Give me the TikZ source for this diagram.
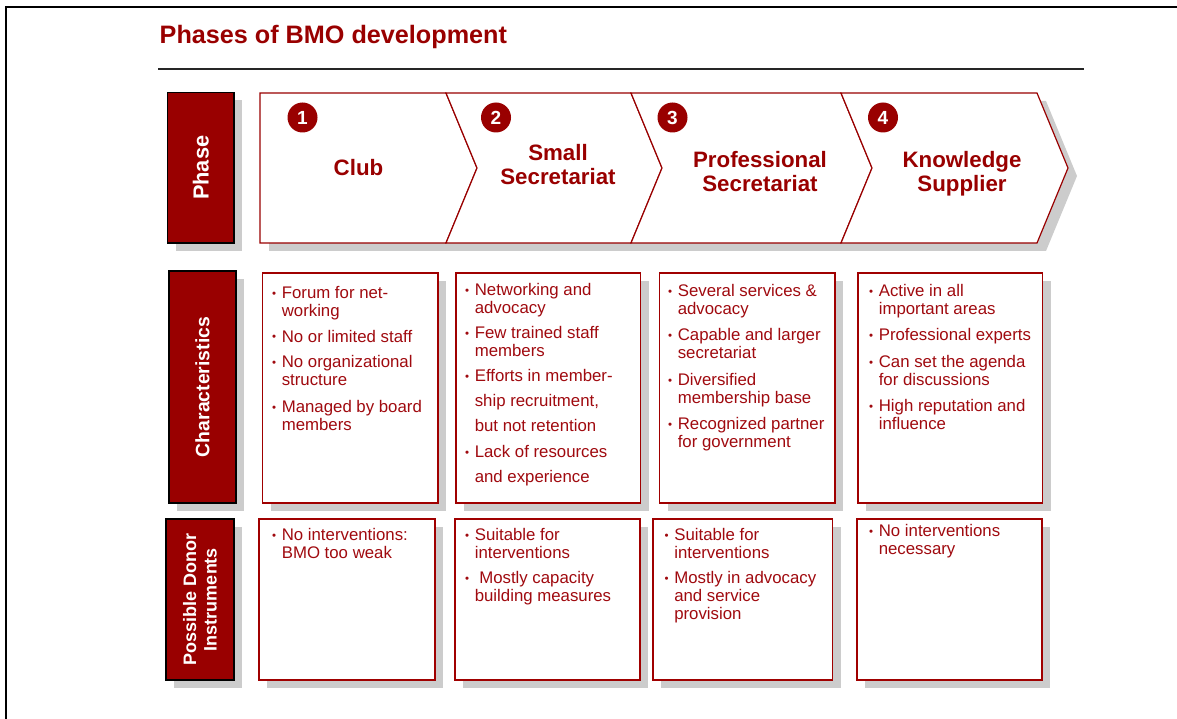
\documentclass[tikz,border=0pt]{standalone}
\usepackage{fontspec}
\setmainfont{Liberation Sans}
\usetikzlibrary{shadows}
\definecolor{bmored}{HTML}{990000}
\definecolor{txtred}{HTML}{A00A0F}
\definecolor{boxred}{HTML}{A00000}
\definecolor{shadowgray}{HTML}{CCCCCC}
\newcommand\bul{\raisebox{1.0pt}{\fontsize{11.5}{10}\selectfont •}}
\newcommand\bi{\makebox[9.6pt][l]{\bul}}
\newcommand\ci{\hspace*{9.6pt}}
\begin{document}
\begin{tikzpicture}[x=1pt,y=-1pt,
  shadowed/.style={drop shadow={shadow xshift=8pt,shadow yshift=-8pt,fill=shadowgray,opacity=1}},
  sidebox/.style={shadowed,draw=black,line width=1.2pt,fill=bmored,inner sep=0pt,text=white},
  infobox/.style={shadowed,draw=boxred,line width=1.5pt,fill=white,inner sep=0pt},
  boxtext/.style={anchor=base west,inner sep=0pt,text=txtred,font=\fontsize{16.8}{18}\selectfont},
  phlabel/.style={align=center,inner sep=0pt,text=bmored,font=\fontsize{22.3}{24}\selectfont\bfseries},
  numc/.style={circle,fill=bmored,minimum size=30pt,inner sep=0pt,text=white,font=\fontsize{19}{19}\selectfont\bfseries},
  chev/.style={draw=bmored,line width=1.2pt,fill=white,line join=miter}]
\useasboundingbox (0,0) rectangle (1177,719);
% frame
\draw[line width=2pt] (6,719) -- (6,7) -- (1177,7);
% title and rule
\node[anchor=base west,inner sep=0pt,text=bmored,font=\fontsize{25.2}{25}\selectfont\bfseries] (title) at (159.5,44) {Phases of BMO development};
\coordinate (ruleL) at (158,69);
\coordinate (ruleR) at (1084,69);
\draw[line width=1.4pt,black!85] (ruleL) -- (ruleR);
% side labels
\node[sidebox,minimum width=66.5pt,minimum height=150.5pt] (sphase) at (200.75,167.75) {};
\node[rotate=90,text=white,font=\fontsize{21.8}{22}\selectfont\bfseries] (tphase) at (sphase.center) {Phase};
\node[sidebox,minimum width=67pt,minimum height=232pt] (schar) at (202.5,387) {};
\node[rotate=90,text=white,font=\fontsize{19.4}{20}\selectfont\bfseries] (tchar) at (schar.center) {Characteristics};
\node[sidebox,minimum width=68pt,minimum height=161pt] (sdonor) at (200,599.5) {};
\node[rotate=90,align=center,text=white,font=\fontsize{18}{20.5}\selectfont\bfseries] (tdonor) at (sdonor.center) {Possible Donor\\Instruments};
% chevron row shadow
\fill[shadowgray] (269,101) -- (1046,101) -- (1077,176) -- (1046,251) -- (269,251) -- cycle;
% chevrons
\draw[chev] (260,93) -- (446,93) -- (477,168) -- (446,243) -- (260,243) -- cycle;
\draw[chev] (446,93) -- (631,93) -- (662,168) -- (631,243) -- (446,243) -- (477,168) -- cycle;
\draw[chev] (631,93) -- (841,93) -- (872,168) -- (841,243) -- (631,243) -- (662,168) -- cycle;
\draw[chev] (841,93) -- (1037,93) -- (1068,168) -- (1037,243) -- (841,243) -- (872,168) -- cycle;
% numbers
\node[numc] (n1) at (302.5,117.5) {1};
\node[numc] (n2) at (496,117.5) {2};
\node[numc] (n3) at (672.5,117.5) {3};
\node[numc] (n4) at (883,117.5) {4};
% phase labels
\node[phlabel] (l1) at (358.5,168) {Club};
\node[phlabel] (l2) at (558,165) {Small\\Secretariat};
\node[phlabel] (l3) at (760,172) {Professional\\Secretariat};
\node[phlabel] (l4) at (962,174) {Knowledge\\Supplier};
% characteristics boxes
\node[infobox,minimum width=175.5pt,minimum height=230pt] (c1) at (350.25,388) {};
\node[infobox,minimum width=184.5pt,minimum height=230pt] (c2) at (548.25,388) {};
\node[infobox,minimum width=175.5pt,minimum height=230pt] (c3) at (747.25,388) {};
\node[infobox,minimum width=184.5pt,minimum height=230pt] (c4) at (950.25,388) {};
% donor boxes
\node[infobox,minimum width=176pt,minimum height=161pt] (d1) at (347,599.5) {};
\node[infobox,minimum width=185pt,minimum height=161pt] (d2) at (547.5,599.5) {};
\node[infobox,minimum width=179.5pt,minimum height=161pt] (d3) at (742.75,599.5) {};
\node[infobox,minimum width=185pt,minimum height=161pt] (d4) at (949.5,599.5) {};
% characteristics texts
\node[boxtext] (c1t) at (272,298) {\begin{tabular}[t]{@{}l@{}}
\bi Forum for net-\\
\ci working\\[8pt]
\bi No or limited staff\\[8pt]
\bi No organizational\\
\ci structure\\[8.5pt]
\bi Managed by board\\
\ci members
\end{tabular}};
\node[boxtext] (c2t) at (465,295) {\begin{tabular}[t]{@{}l@{}}
\bi Networking and\\
\ci advocacy\\[7pt]
\bi Few trained staff\\
\ci members\\[7pt]
\bi Efforts in member-\\[7pt]
\ci ship recruitment,\\[7pt]
\ci but not retention\\[8.5pt]
\bi Lack of resources\\[6.5pt]
\ci and experience
\end{tabular}};
\node[boxtext] (c3t) at (668,296.7) {\begin{tabular}[t]{@{}l@{}}
\bi Several services \&\\
\ci advocacy\\[8pt]
\bi Capable and larger\\
\ci secretariat\\[8.6pt]
\bi Diversified\\
\ci membership base\\[8pt]
\bi Recognized partner\\
\ci for government
\end{tabular}};
\node[boxtext] (c4t) at (869,296.7) {\begin{tabular}[t]{@{}l@{}}
\bi Active in all\\
\ci important areas\\[8pt]
\bi Professional experts\\[8.6pt]
\bi Can set the agenda\\
\ci for discussions\\[8pt]
\bi High reputation and\\
\ci influence
\end{tabular}};
% donor texts
\node[boxtext] (d1t) at (272,540.3) {\begin{tabular}[t]{@{}l@{}}
\bi No interventions:\\
\ci BMO too weak
\end{tabular}};
\node[boxtext] (d2t) at (465,540.3) {\begin{tabular}[t]{@{}l@{}}
\bi Suitable for\\
\ci interventions\\[7.4pt]
\bi\hspace{4.5pt}Mostly capacity\\
\ci building measures
\end{tabular}};
\node[boxtext] (d3t) at (664.5,540.3) {\begin{tabular}[t]{@{}l@{}}
\bi Suitable for\\
\ci interventions\\[7.4pt]
\bi Mostly in advocacy\\
\ci and service\\
\ci provision
\end{tabular}};
\node[boxtext] (d4t) at (869,536.7) {\begin{tabular}[t]{@{}l@{}}
\bi No interventions\\
\ci necessary
\end{tabular}};
\end{tikzpicture}
\end{document}
